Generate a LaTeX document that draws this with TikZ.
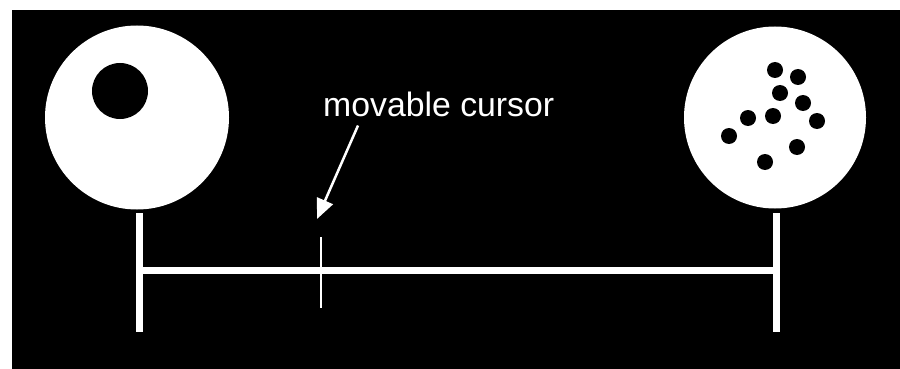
\documentclass[tikz,border=0pt]{standalone}
\usepackage{fontspec}
\setmainfont{Liberation Sans}
\usetikzlibrary{arrows.meta}

\begin{document}
\begin{tikzpicture}[x=1pt,y=-1pt,>={Triangle[length=20pt,width=17pt]},line cap=butt]
\tikzset{
  disc/.style={circle,fill=white,inner sep=0pt,minimum size=184pt},
  dot/.style={circle,fill=black,inner sep=0pt,minimum size=16pt},
  bar/.style={white,line width=7pt},
}
\useasboundingbox (0,0) rectangle (900,369);
\fill[white] (0,0) rectangle (900,369);
\fill[black] (12,10) rectangle (905,375);
% the two discs
\node[disc] (left) at (137,117.5) {};
\node[dot,minimum size=56pt] (hole) at (120,91) {};
\node[disc,minimum size=182pt] (right) at (775,117.5) {};
\foreach \x/\y [count=\i] in {775/70,798/77,780/93,803/103,748/118,773/116,817/121,729/136,797/147,765/162}
  \node[dot] (d\i) at (\x,\y) {};
% scale
\coordinate (ltop) at (139,213);
\coordinate (lbot) at (139,332);
\coordinate (rtop) at (776,213);
\coordinate (rbot) at (776,332);
\draw[bar] (ltop) -- (lbot);
\draw[bar] (rtop) -- (rbot);
\draw[bar] (139,270) -- (776,270);
% cursor
\coordinate (ctop) at (321,237);
\coordinate (cbot) at (321,308);
\draw[white,line width=2pt] (ctop) -- (cbot);
\node[white,inner sep=0pt,anchor=base west,font=\fontsize{33.8}{38}\selectfont] (label) at (323,117) {movable cursor};
\coordinate (tip) at (317,219);
\draw[->,white,line width=2.5pt] ([xshift=35pt,yshift=-8pt]label.south west) -- (tip);
\end{tikzpicture}
\end{document}
